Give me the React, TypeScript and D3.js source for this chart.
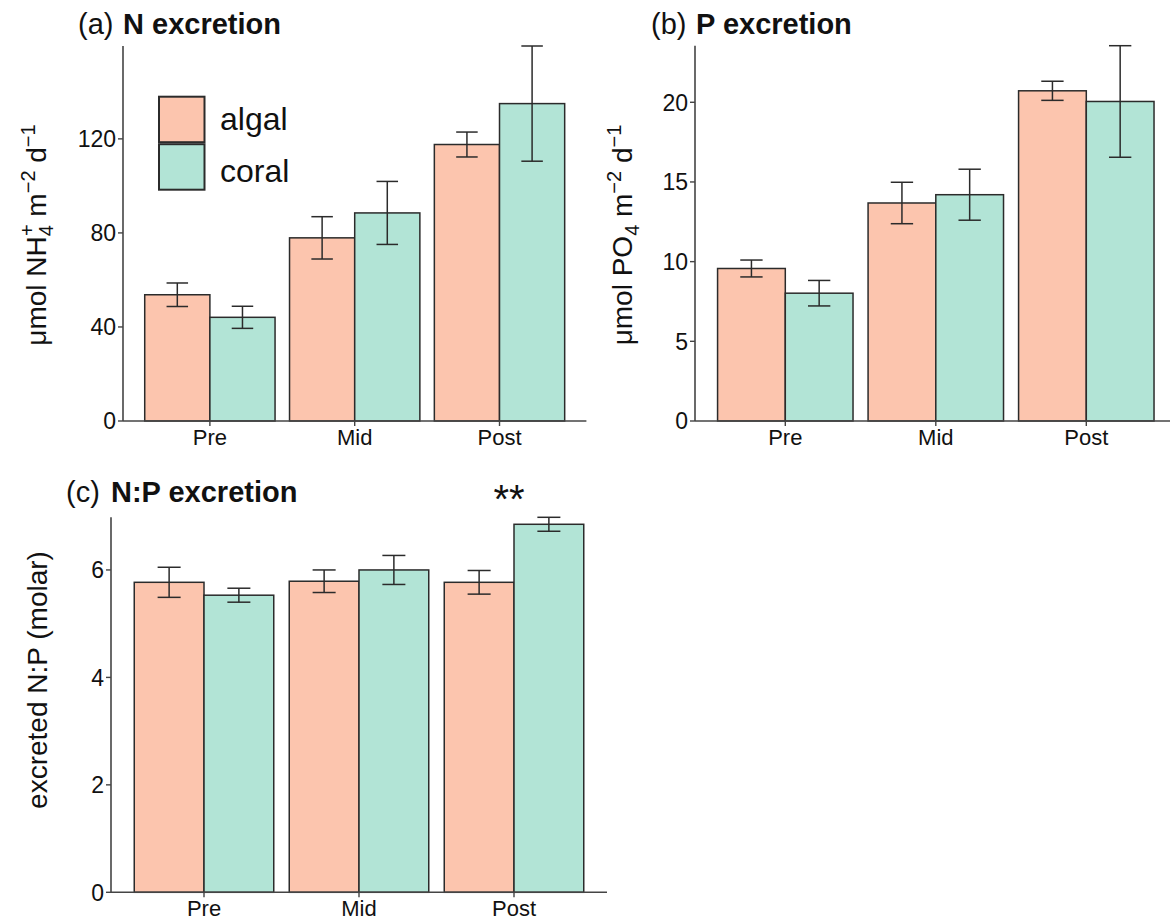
import React from 'react';
import * as d3 from 'd3';

// categories and groups
const categories = ['Pre', 'Mid', 'Post'];
const groups = ['algal', 'coral'];
const groupColors = ['#fcc5ae', '#b2e4d6'];

// (a) N excretion, mean and SE
const nAlgal = [53.7, 77.9, 117.6];
const nAlgalSE = [5.0, 9.0, 5.3];
const nCoral = [44.1, 88.5, 135.0];
const nCoralSE = [4.7, 13.4, 24.5];
const nTicks = [0, 40, 80, 120];

// (b) P excretion
const pAlgal = [9.57, 13.68, 20.72];
const pAlgalSE = [0.53, 1.3, 0.6];
const pCoral = [8.02, 14.2, 20.05];
const pCoralSE = [0.8, 1.6, 3.5];
const pTicks = [0, 5, 10, 15, 20];

// (c) N:P excretion
const npAlgal = [5.77, 5.79, 5.77];
const npAlgalSE = [0.28, 0.21, 0.22];
const npCoral = [5.53, 6.0, 6.85];
const npCoralSE = [0.13, 0.27, 0.13];
const npTicks = [0, 2, 4, 6];

const FONT = 'Liberation Sans, Arial, Helvetica, sans-serif';
const INK = '#2b2b2b';

type PanelProps = {
  left: number; right: number; top: number; bottom: number;
  means: number[][]; ses: number[][]; ticks: number[];
  tag: string; title: string; tagX: number; titleX: number; titleY: number;
  yLabel: React.ReactNode; yLabelX: number; yLabelY: number;
  children?: (x: d3.ScaleBand<string>, y: d3.ScaleLinear<number, number>) => React.ReactNode;
};

function Panel(p: PanelProps) {
  const top = d3.max(p.means.flatMap((m, g) => m.map((v, i) => v + p.ses[g][i]))) as number;
  const y = d3.scaleLinear().domain([0, top]).range([p.bottom, p.top]);
  const x = d3.scaleBand().domain(categories).range([p.left, p.right]).paddingInner(0.1).paddingOuter(0.15);
  const inner = d3.scaleBand().domain(groups).range([0, x.bandwidth()]);

  return (
    <g fontFamily={FONT}>
      <text x={p.tagX} y={p.titleY} fontSize={29} fill="#111">{p.tag}</text>
      <text x={p.titleX} y={p.titleY} fontSize={29} fontWeight="bold" fill="#111">{p.title}</text>

      {categories.map((c, i) => (
        <g key={c}>
          {groups.map((g, gi) => {
            const bx = (x(c) as number) + (inner(g) as number);
            const v = p.means[gi][i];
            return (
              <rect key={g} x={bx} y={y(v)} width={inner.bandwidth()} height={y(0) - y(v)}
                fill={groupColors[gi]} stroke={INK} strokeWidth={1.5} />
            );
          })}
        </g>
      ))}

      {categories.map((c, i) => (
        <g key={'e' + c}>
          {groups.map((g, gi) => {
            const cx = (x(c) as number) + (inner(g) as number) + inner.bandwidth() / 2;
            const v = p.means[gi][i];
            const s = p.ses[gi][i];
            const hw = inner.bandwidth() * 0.165;
            return (
              <g key={g} stroke={INK} strokeWidth={1.5}>
                <line x1={cx} x2={cx} y1={y(v + s)} y2={y(v - s)} />
                <line x1={cx - hw} x2={cx + hw} y1={y(v + s)} y2={y(v + s)} />
                <line x1={cx - hw} x2={cx + hw} y1={y(v - s)} y2={y(v - s)} />
              </g>
            );
          })}
        </g>
      ))}

      {/* axes */}
      <line x1={p.left} x2={p.left} y1={p.top} y2={p.bottom} stroke="#444" strokeWidth={1.6} />
      <line x1={p.left} x2={p.right} y1={p.bottom} y2={p.bottom} stroke="#444" strokeWidth={1.6} />
      {p.ticks.map(t => (
        <g key={t}>
          <line x1={p.left - 5} x2={p.left} y1={y(t)} y2={y(t)} stroke="#444" strokeWidth={1.4} />
          <text x={p.left - 7} y={y(t)} dy="0.36em" textAnchor="end" fontSize={23} fill="#111">{t}</text>
        </g>
      ))}
      {categories.map(c => {
        const cx = (x(c) as number) + x.bandwidth() / 2;
        return (
          <g key={'x' + c}>
            <line x1={cx} x2={cx} y1={p.bottom} y2={p.bottom + 5} stroke="#444" strokeWidth={1.4} />
            <text x={cx} y={p.bottom + 24} textAnchor="middle" fontSize={22} fill="#111">{c}</text>
          </g>
        );
      })}

      <text transform={`translate(${p.yLabelX},${p.yLabelY}) rotate(-90)`} textAnchor="middle"
        fontSize={28} fill="#111">{p.yLabel}</text>

      {p.children && p.children(x, y)}
    </g>
  );
}

function Legend({ x, y }: { x: number; y: number }) {
  return (
    <g fontFamily={FONT}>
      {groups.map((g, i) => (
        <g key={g}>
          <rect x={x} y={y + i * 47.5} width={45.5} height={45.5} fill={groupColors[i]} stroke={INK} strokeWidth={2} />
          <text x={x + 61} y={y + i * 51.5 + 33.5} fontSize={32} fill="#111">{g}</text>
        </g>
      ))}
    </g>
  );
}

export default function App() {
  return (
    <svg width={1170} height={923} style={{ position: 'absolute', left: 0, top: 0, background: '#fff' }}>
      <rect width={1170} height={923} fill="#fff" />
      <Panel left={123} right={586.4} top={46} bottom={421}
        means={[nAlgal, nCoral]} ses={[nAlgalSE, nCoralSE]} ticks={nTicks}
        tag="(a)" title="N excretion" tagX={78} titleX={123} titleY={34}
        yLabelX={46} yLabelY={235}
        yLabel={<>
          <tspan>μmol NH</tspan>
          <tspan fontSize={20} dy={7}>4</tspan>
          <tspan fontSize={20} dx={-11} dy={-19}>+</tspan>
          <tspan dy={12}> m</tspan>
          <tspan fontSize={20} dy={-11}>−2</tspan>
          <tspan dy={11}> d</tspan>
          <tspan fontSize={20} dy={-11}>−1</tspan>
        </>} />
      <Legend x={159} y={96.7} />
      <Panel left={695} right={1176.6} top={45.7} bottom={421}
        means={[pAlgal, pCoral]} ses={[pAlgalSE, pCoralSE]} ticks={pTicks}
        tag="(b)" title="P excretion" tagX={651} titleX={696} titleY={34}
        yLabelX={632} yLabelY={235}
        yLabel={<>
          <tspan>μmol PO</tspan>
          <tspan fontSize={20} dy={7}>4</tspan>
          <tspan dy={-7}> m</tspan>
          <tspan fontSize={20} dy={-11}>−2</tspan>
          <tspan dy={11}> d</tspan>
          <tspan fontSize={20} dy={-11}>−1</tspan>
        </>} />
      <Panel left={111} right={607} top={517.3} bottom={892.3}
        means={[npAlgal, npCoral]} ses={[npAlgalSE, npCoralSE]} ticks={npTicks}
        tag="(c)" title="N:P excretion" tagX={66} titleX={111} titleY={502}
        yLabelX={47} yLabelY={680}
        yLabel={<tspan>excreted N:P (molar)</tspan>}>
        {(x) => (
          <text x={(x('Post') as number) + x.bandwidth() / 2 - 5} y={513} textAnchor="middle"
            fontSize={40} fontFamily={FONT} fill="#111">**</text>
        )}
      </Panel>
    </svg>
  );
}
